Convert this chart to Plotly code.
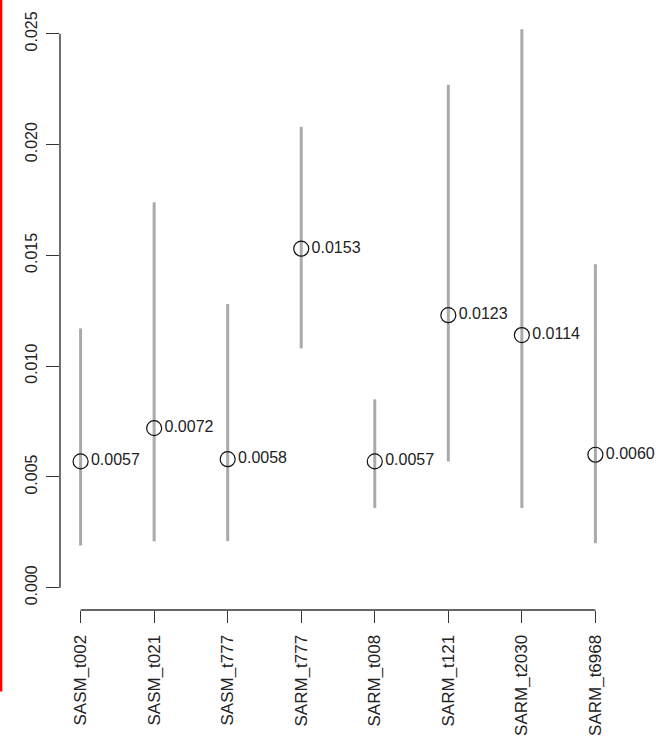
import plotly.graph_objects as go

# Estimates with lower/upper interval bounds per sample
categories = ["SASM_t002", "SASM_t021", "SASM_t777", "SARM_t777",
              "SARM_t008", "SARM_t121", "SARM_t2030", "SARM_t6968"]
estimate = [0.0057, 0.0072, 0.0058, 0.0153, 0.0057, 0.0123, 0.0114, 0.0060]
lower = [0.0019, 0.0021, 0.0021, 0.0108, 0.0036, 0.0057, 0.0036, 0.0020]
upper = [0.0117, 0.0174, 0.0128, 0.0208, 0.0085, 0.0227, 0.0252, 0.0146]
y_ticks = [0.000, 0.005, 0.010, 0.015, 0.020, 0.025]

positions = list(range(1, len(categories) + 1))
err_plus = [u - e for u, e in zip(upper, estimate)]
err_minus = [e - l for e, l in zip(estimate, lower)]

FONT = "Liberation Sans, Arial, sans-serif"
INK = "#222222"

# R-like axis limits: data range padded by 4% on each side
y_lo, y_hi = 0.0, max(upper)
y_pad = 0.04 * (y_hi - y_lo)
x_pad = 0.04 * (positions[-1] - positions[0])

fig = go.Figure()

# interval bars (no caps)
fig.add_trace(go.Scatter(
    x=positions, y=estimate, mode="markers",
    marker=dict(size=0.1, color="rgba(0,0,0,0)"),
    error_y=dict(type="data", symmetric=False, array=err_plus,
                 arrayminus=err_minus, width=0, thickness=3,
                 color="#aaaaaa"),
    hoverinfo="skip", showlegend=False, cliponaxis=False,
))

# point estimates with value labels
fig.add_trace(go.Scatter(
    x=positions, y=estimate, mode="markers+text",
    marker=dict(symbol="circle-open", size=15,
                line=dict(color="#111111", width=1.2), color="#111111"),
    text=[f"{v:.4f}" for v in estimate],
    textposition="middle right",
    textfont=dict(family=FONT, size=16, color=INK),
    showlegend=False, cliponaxis=False,
))

# axis lines spanning first to last tick only
fig.add_shape(type="line", xref="x", yref="paper",
              x0=positions[0], x1=positions[-1], y0=0, y1=0,
              line=dict(color="#333333", width=1.4))
fig.add_shape(type="line", xref="paper", yref="y",
              x0=0, x1=0, y0=y_ticks[0], y1=y_ticks[-1],
              line=dict(color="#333333", width=1.4))

# red marker line along the left edge of the page
fig.add_shape(type="line", xref="paper", yref="paper",
              x0=-0.106, x1=-0.106, y0=-0.135, y1=1.02,
              line=dict(color="#ff0000", width=2.5))

fig.update_xaxes(
    range=[positions[0] - x_pad, positions[-1] + x_pad],
    tickvals=positions, ticktext=categories, tickangle=-90,
    ticks="outside", ticklen=12, tickwidth=1.4, tickcolor="#333333",
    tickfont=dict(family=FONT, size=17, color=INK),
    ticklabelstandoff=5, automargin=False,
    showgrid=False, zeroline=False, showline=False,
)
fig.update_yaxes(
    range=[y_lo - y_pad, y_hi + y_pad],
    tickvals=y_ticks, ticktext=[f"{t:.3f}" for t in y_ticks], tickangle=-90,
    ticks="outside", ticklen=13, tickwidth=1.4, tickcolor="#333333",
    tickfont=dict(family=FONT, size=16, color=INK),
    ticklabelstandoff=3, automargin=False,
    showgrid=False, zeroline=False, showline=False,
)

fig.update_layout(
    width=656, height=737,
    margin=dict(l=60, r=40, t=7, b=127),
    plot_bgcolor="white", paper_bgcolor="white",
    font=dict(family=FONT),
)

fig.write_html("out.html")
